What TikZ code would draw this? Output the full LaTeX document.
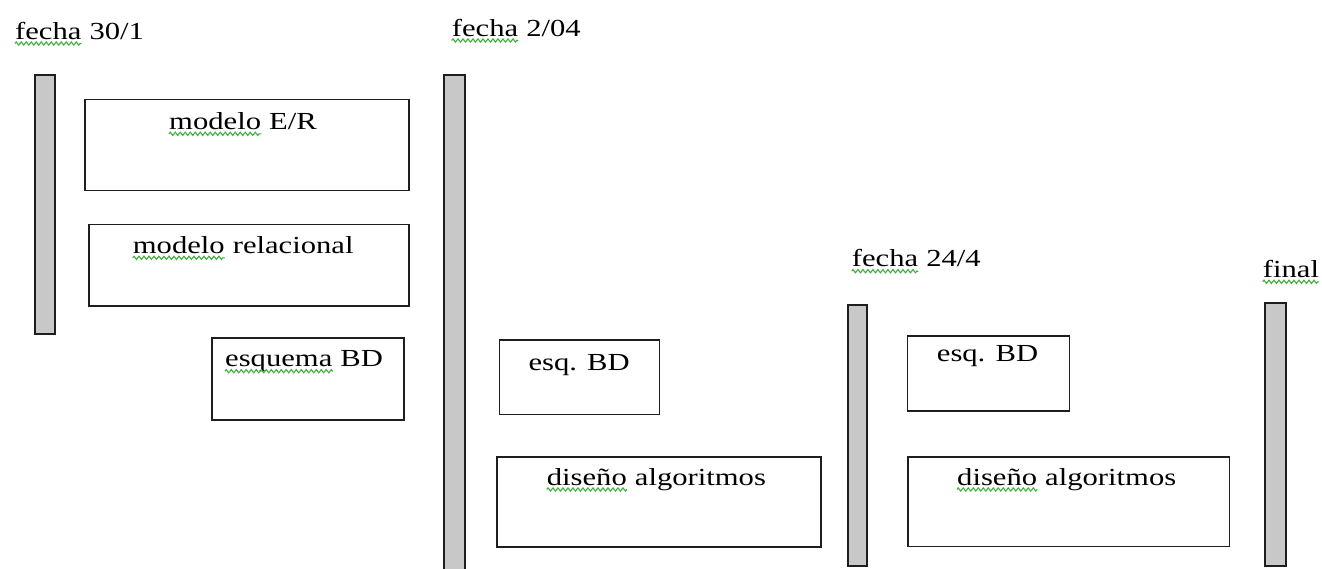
\documentclass[tikz,border=0pt]{standalone}
\usepackage{fontspec}
\setmainfont{Liberation Serif}[FakeStretch=1.25]
\usetikzlibrary{decorations.pathmorphing}
\definecolor{barfill}{RGB}{200,200,200}
\definecolor{edge}{RGB}{30,30,30}
\definecolor{spell}{RGB}{60,175,60}
\begin{document}
\begin{tikzpicture}[x=1pt,y=-1pt,
  bar/.style={draw=edge,fill=barfill,line width=2pt,inner sep=0,anchor=north west},
  task/.style={draw=edge,line width=1.8pt,inner sep=0,anchor=north west},
  txt/.style={inner sep=0,anchor=base west,font=\fontsize{24.5}{29}\selectfont},
  squiggle/.style={spell,line width=1.1pt,decorate,
    decoration={zigzag,amplitude=1.6pt,segment length=5pt}}]
\useasboundingbox (0,0) rectangle (1322,568);

% milestone bars
\node[bar,minimum width=19.5,minimum height=259] (b1) at (34.2,73.6) {};
\node[bar,minimum width=21.5,minimum height=500] (b2) at (442.6,73.6) {};
\node[bar,minimum width=19,minimum height=261] (b3) at (847,303.6) {};
\node[bar,minimum width=21.5,minimum height=262.8] (b4) at (1263.6,302) {};

% task boxes
\node[task,minimum width=324,minimum height=91] (er) at (84,98.5) {};
\node[task,minimum width=320,minimum height=81.7] (rel) at (88,223.5) {};
\node[task,minimum width=192,minimum height=82] (esq) at (211,337) {};
\node[task,minimum width=160,minimum height=74.5] (esqA) at (498.5,339) {};
\node[task,minimum width=324,minimum height=90] (disA) at (496,456) {};
\node[task,minimum width=162,minimum height=75] (esqB) at (906.5,335) {};
\node[task,minimum width=321.5,minimum height=89.5] (disB) at (907,456) {};

% milestone labels
\node[txt] (f1) at (15,39) {fecha};
\node[txt] (f1r) at (f1.base east) {\ 30/1};
\node[txt] (f2) at (451.7,36) {fecha};
\node[txt] (f2r) at (f2.base east) {\ 2/04};
\node[txt] (f3) at (851.7,266.7) {fecha};
\node[txt] (f3r) at (f3.base east) {\ 24/4};
\node[txt] (f4) at (1262.7,277.3) {final};

% task labels
\node[txt] (t1) at (169,129.3) {modelo};
\node[txt] (t1r) at (t1.base east) {\ E/R};
\node[txt] (t2) at (132.7,253.3) {modelo};
\node[txt] (t2r) at (t2.base east) {\ relacional};
\node[txt] (t3) at (225,366.7) {esquema};
\node[txt] (t3r) at (t3.base east) {\ BD};
\node[txt] (t4) at (528.3,370) {esq. BD};
\node[txt] (t5) at (546.7,485) {diseño};
\node[txt] (t5r) at (t5.base east) {\ algoritmos};
\node[txt] (t6) at (936.7,361.7) {esq. BD};
\node[txt] (t7) at (957,485) {diseño};
\node[txt] (t7r) at (t7.base east) {\ algoritmos};

% spell-check marks
\foreach \w in {f1,f2,f3,f4,t1,t2,t3,t5,t7}
  \draw[squiggle] ([yshift=-4.5pt]\w.base west) -- ([yshift=-4.5pt]\w.base east);
\end{tikzpicture}
\end{document}
